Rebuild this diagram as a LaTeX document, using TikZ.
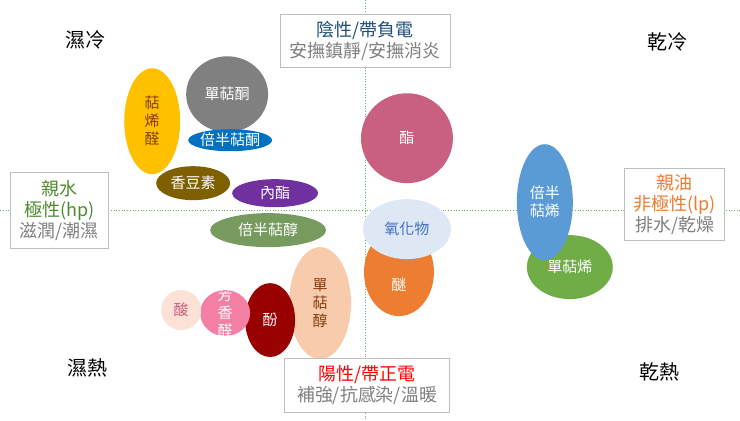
\documentclass[tikz,border=0pt]{standalone}
\usepackage{fontspec}
\setmainfont{Noto Sans CJK TC}
\begin{document}
\begin{tikzpicture}[x=1pt,y=-1pt,
  lbox/.style={draw=gray!50, fill=white, line width=0.8pt, align=center, inner sep=1pt, font=\fontsize{18}{21}\selectfont},
  corner/.style={font=\fontsize{20}{22}\selectfont},
  ax/.style={draw=green!50!black!60, dotted, line width=0.7pt}]
\usetikzlibrary{shapes.geometric}
\fill[white] (0,0) rectangle (740,420);
\draw[ax] (0,210) -- (740,210);
\draw[ax] (365,0) -- (365,420);
\def\E#1#2#3#4#5#6#7{\fill[#5] (#1,#2) ellipse [x radius=#3, y radius=#4]; \node[align=center,text=#6,font=\fontsize{15}{18}\selectfont] at (#1,#2) {#7};}
\definecolor{c1}{HTML}{FFC000}\definecolor{t1}{HTML}{843C0C}
\E{152}{121}{28}{53}{c1}{t1}{萜\\烯\\醛}
\E{227}{94}{41}{38}{gray}{white}{單萜酮}
\definecolor{c2}{HTML}{0070C0}\E{230}{140}{42}{11}{c2}{white}{倍半萜酮}
\definecolor{c3}{HTML}{7F6000}\E{193}{183}{37}{17}{c3}{white}{香豆素}
\definecolor{c4}{HTML}{7030A0}\E{275}{193}{43}{14}{c4}{white}{內酯}
\definecolor{c5}{HTML}{779A5F}\E{268}{230}{58}{17}{c5}{white}{倍半萜醇}
\definecolor{c6}{HTML}{C9607F}\E{407}{138}{46}{45}{c6}{white}{酯}
\definecolor{c7}{HTML}{ED7D31}\E{399}{272}{35}{44}{c7}{white}{\\[20pt]醚}
\definecolor{c8}{HTML}{DDE8F4}\definecolor{t8}{HTML}{4472C4}\E{407}{229}{44}{30}{c8}{t8}{氧化物}
\definecolor{c9}{HTML}{F8CBAD}\E{320}{303}{31}{56}{c9}{t1}{單\\萜\\醇}
\definecolor{c10}{HTML}{990000}\E{270}{320}{25}{37}{c10}{white}{酚}
\definecolor{c11}{HTML}{F47FA5}\E{225}{313}{25}{23}{c11}{white}{芳\\香\\醛}
\definecolor{c12}{HTML}{FBE1D6}\E{181}{310}{20}{20}{c12}{c6}{酸}
\definecolor{c13}{HTML}{70AD47}\E{570}{267}{43}{32}{c13}{white}{單萜烯}
\definecolor{c14}{HTML}{5B9BD5}\E{545}{202}{28}{58}{c14}{white}{倍半\\萜烯}
\definecolor{tb}{HTML}{1F4E79}\definecolor{tg}{HTML}{4E8A2E}
\node[lbox, minimum width=170, minimum height=53] (top) at (365,41) {\textcolor{tb}{陰性/帶負電}\\\textcolor{gray}{安撫鎮靜/安撫消炎}};
\node[lbox, minimum width=98, minimum height=76] (left) at (59,210) {\textcolor{tg}{親水}\\\textcolor{tg}{極性(hp)}\\\textcolor{gray}{滋潤/潮濕}};
\node[lbox, minimum width=100, minimum height=72] (right) at (675,204) {\textcolor{c7}{親油}\\\textcolor{c7}{非極性(lp)}\\\textcolor{gray}{排水/乾燥}};
\node[lbox, minimum width=165, minimum height=54] (bot) at (367,385) {\textcolor{red}{陽性/帶正電}\\\textcolor{gray}{補強/抗感染/溫暖}};
\node[corner] (a) at (85,40) {濕冷};
\node[corner] (b) at (668,42) {乾冷};
\node[corner] (c) at (87,368) {濕熱};
\node[corner] (d) at (660,372) {乾熱};
\end{tikzpicture}
\end{document}
